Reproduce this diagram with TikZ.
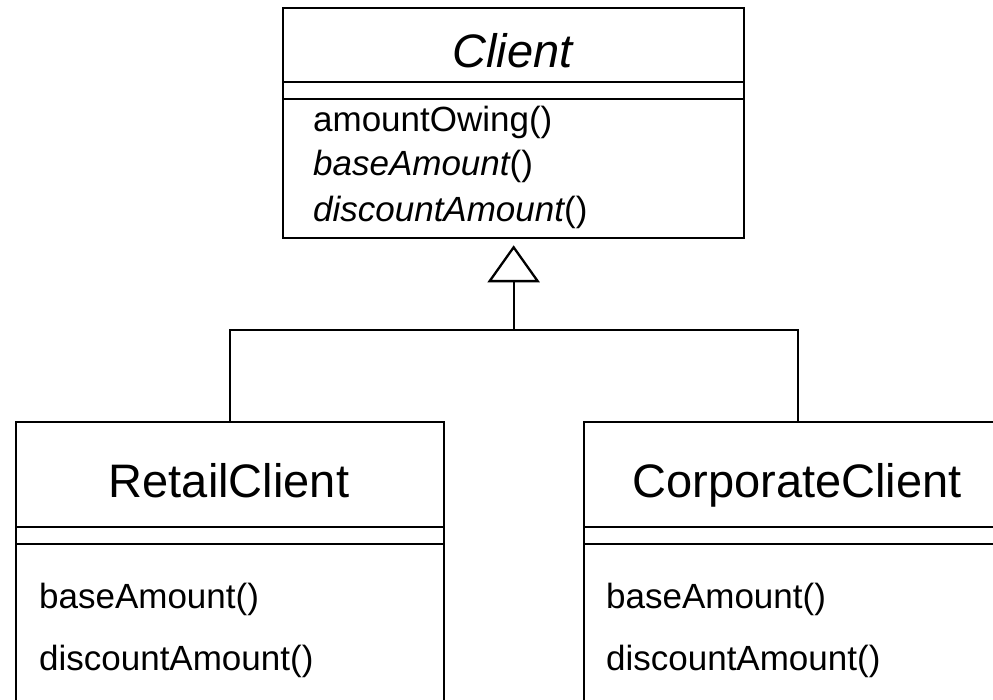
\documentclass[tikz,border=0pt]{standalone}
\usepackage{fontspec}
\setmainfont{Liberation Sans}
\usetikzlibrary{arrows.meta}
\begin{document}
\begin{tikzpicture}[x=1pt,y=-1pt, line width=2.3pt,
  cls/.style={draw, rectangle, inner sep=0pt, anchor=north west},
  title/.style={font=\fontsize{47}{56}\selectfont, anchor=base, inner sep=0pt},
  meth/.style={font=\fontsize{35}{42}\selectfont, anchor=base west, inner sep=0pt},
  gen/.style={-{Triangle[open,length=37pt,width=52pt]}}]
\useasboundingbox (0,0) rectangle (993,700);
\clip (0,0) rectangle (993,700);
% Client
\node[cls, minimum width=461pt, minimum height=230pt] (client) at (282,7) {};
\draw (client.west |- 0,82) -- (client.east |- 0,82);
\draw (client.west |- 0,99) -- (client.east |- 0,99);
\node[title] (clientname) at (512.5,68) {\itshape Client};
\node[meth] (c1) at (312,132) {amountOwing()};
\node[meth] (c2) at (312,176) {\itshape baseAmount\upshape()};
\node[meth] (c3) at (312,222) {\itshape discountAmount\upshape()};
% RetailClient
\node[cls, minimum width=428pt, minimum height=320pt] (retail) at (15,421) {};
\draw (retail.west |- 0,527) -- (retail.east |- 0,527);
\draw (retail.west |- 0,544) -- (retail.east |- 0,544);
\node[title] (retailname) at (229,497) {RetailClient};
\node[meth] (r1) at (38,608) {baseAmount()};
\node[meth] (r2) at (38,670) {discountAmount()};
% CorporateClient
\node[cls, minimum width=428pt, minimum height=320pt] (corp) at (583,421) {};
\draw (corp.west |- 0,527) -- (corp.east |- 0,527);
\draw (corp.west |- 0,544) -- (corp.east |- 0,544);
\node[title] (corpname) at (797,497) {CorporateClient};
\node[meth] (k1) at (605,608) {baseAmount()};
\node[meth] (k2) at (605,670) {discountAmount()};
% generalization
\coordinate (j) at (client.south |- 0,330);
\draw (retail.north) |- (j) -| (corp.north);
\draw[gen] (j) -- ([yshift=-6pt]client.south);
\end{tikzpicture}
\end{document}
